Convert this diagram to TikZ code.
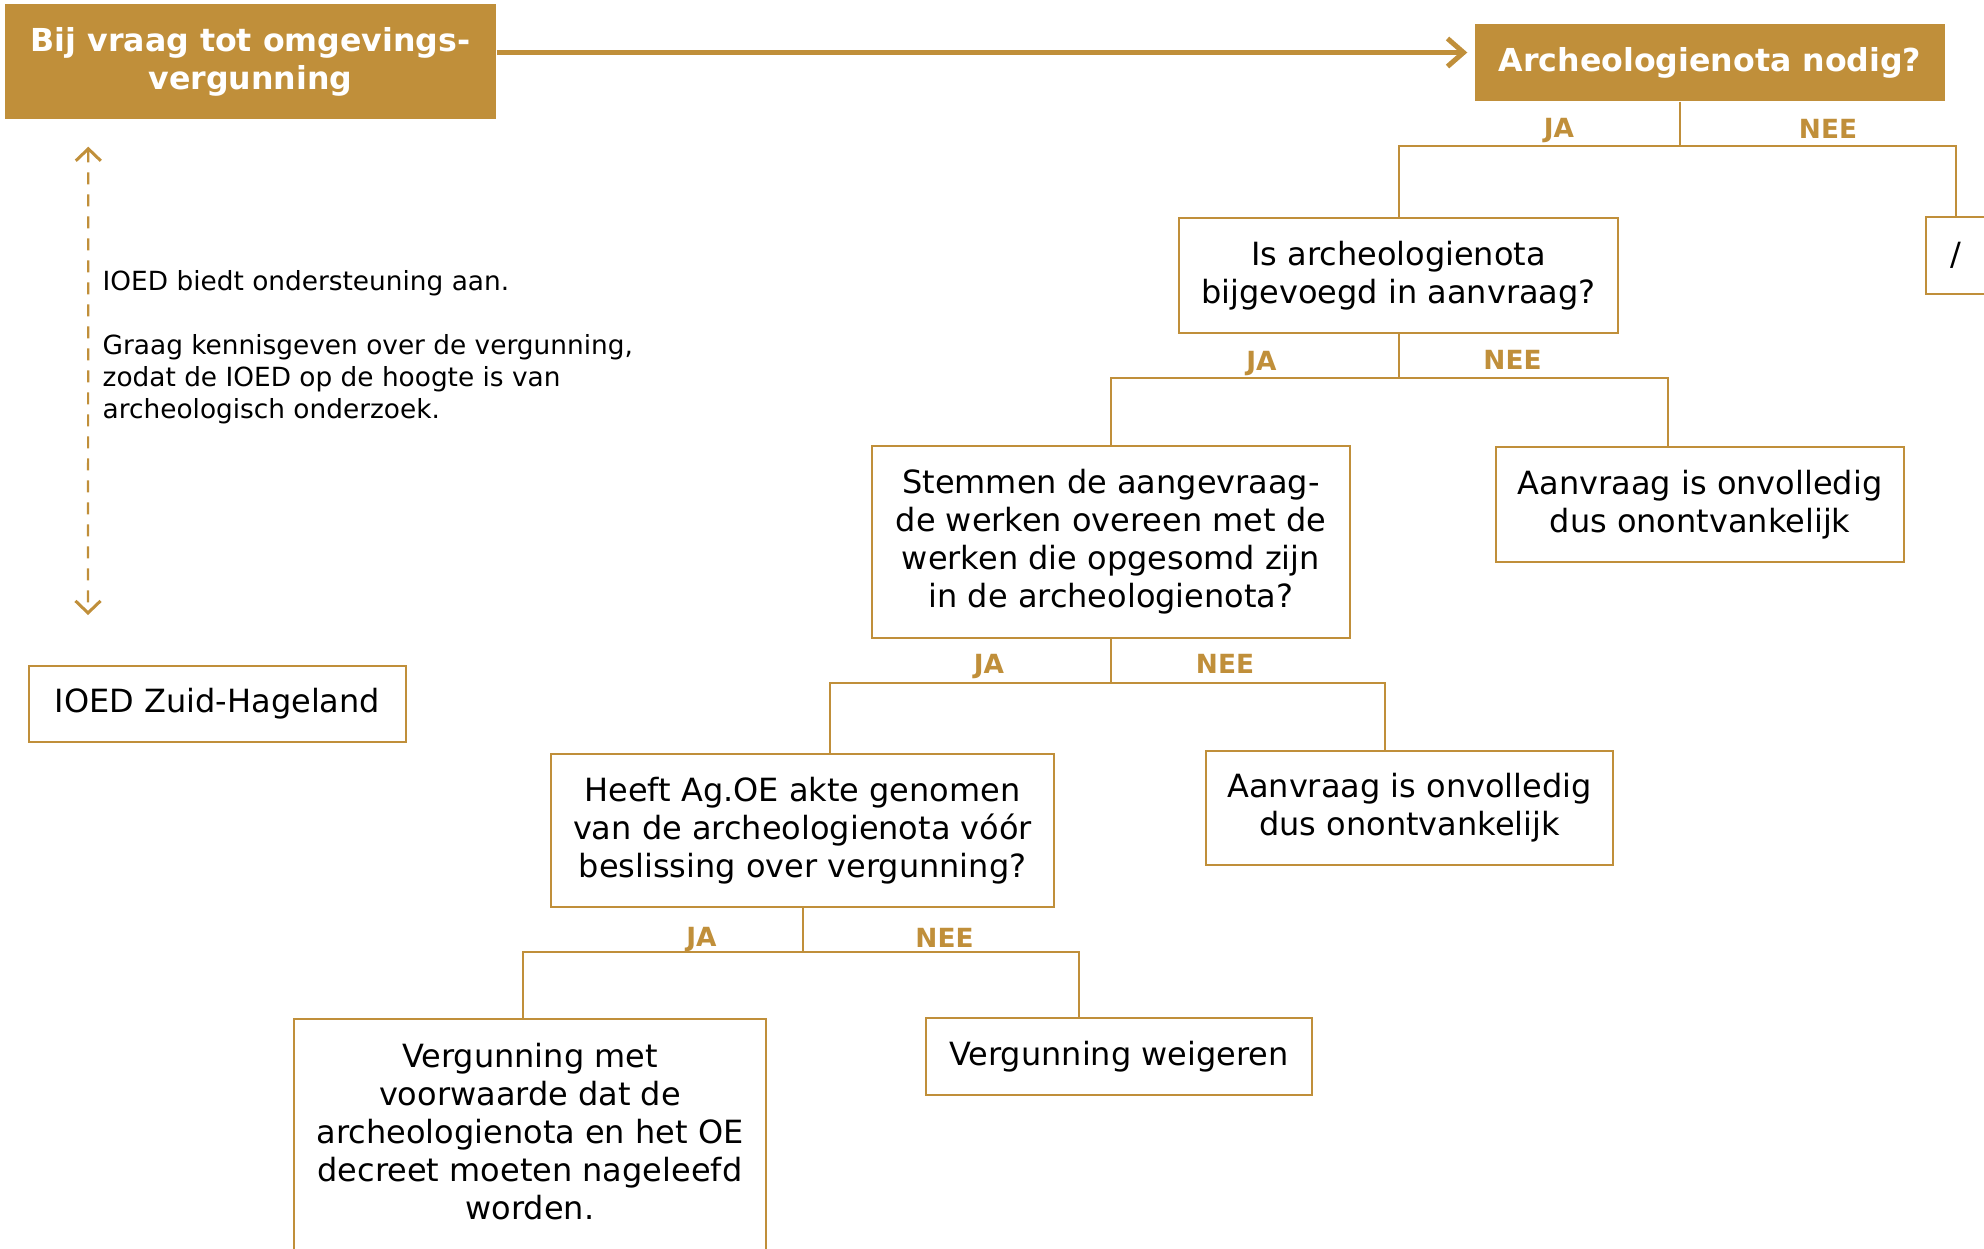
\documentclass[tikz,border=0pt]{standalone}
\usepackage{fontspec}
\setmainfont{DejaVu Sans}
\usetikzlibrary{arrows.meta}
\definecolor{goud}{RGB}{192,143,58}
\begin{document}
\begin{tikzpicture}
[x=0.1mm,y=-0.1mm,
box/.style={draw=goud,line width=0.2mm,align=center,inner sep=0pt,font=\fontsize{9.1}{10.8}\selectfont},
kop/.style={fill=goud,text=white,align=center,inner sep=0pt,font=\fontsize{9}{10.8}\selectfont\bfseries},
keuze/.style={text=goud,inner sep=0pt,text height=5.5pt,text depth=0pt,font=\fontsize{7.5}{9}\selectfont\bfseries},
tak/.style={draw=goud,line width=0.2mm},
pijl/.style={draw=goud,line width=0.5mm,shorten >=0.7mm,-{Straight Barb[length=1.6mm,width=2.8mm]}},
stippel/.style={draw=goud,line width=0.22mm,dash pattern=on 1.2mm off 1mm,
  {Straight Barb[length=1.2mm,width=2.5mm,line width=0.3mm]}-{Straight Barb[length=1.2mm,width=2.5mm,line width=0.3mm]}}]
\useasboundingbox (0,0) rectangle (1984,1248);
\node[kop,minimum width=49.1mm,minimum height=11.5mm] (vraag) at (250.5,61.5) {Bij vraag tot omgevings-\\vergunning};
\node[kop,minimum width=47mm,minimum height=7.7mm] (nodig) at (1710,62.5) {Archeologienota nodig?};
\node[box,minimum width=6mm,minimum height=7.7mm] (geen) at (1956,255.5) {/};
\node[box,minimum width=43.9mm,minimum height=11.5mm] (bijgevoegd) at (1398.5,275.5) {Is archeologienota\\bijgevoegd in aanvraag?};
\node[box,minimum width=47.8mm,minimum height=19.2mm] (stemmen) at (1111,542) {Stemmen de aangevraag-\\de werken overeen met de\\werken die opgesomd zijn\\in de archeologienota?};
\node[box,minimum width=40.8mm,minimum height=11.5mm] (onvolledig1) at (1700,504.5) {Aanvraag is onvolledig\\dus onontvankelijk};
\node[box,minimum width=50.3mm,minimum height=15.3mm] (akte) at (802.5,830.5) {Heeft Ag.OE akte genomen\\van de archeologienota vóór\\beslissing over vergunning?};
\node[box,minimum width=40.7mm,minimum height=11.4mm] (onvolledig2) at (1409.5,808) {Aanvraag is onvolledig\\dus onontvankelijk};
\node[box,minimum width=47.2mm,minimum height=23.4mm,text depth=0.9mm] (voorwaarde) at (530,1136) {Vergunning met\\voorwaarde dat de\\archeologienota en het OE\\decreet moeten nageleefd\\worden.};
\node[box,minimum width=38.6mm,minimum height=7.7mm] (weigeren) at (1119,1056.5) {Vergunning weigeren};
\node[box,minimum width=37.7mm,minimum height=7.6mm] (ioed) at (217.5,704) {IOED Zuid-Hageland};
\node[anchor=north west,align=left,inner sep=0pt,font=\fontsize{7.5}{9.1}\selectfont] (uitleg) at (102,270)
{IOED biedt ondersteuning aan.\\[9.1pt]Graag kennisgeven over de vergunning,\\zodat de IOED op de hoogte is van\\archeologisch onderzoek.};
\draw[pijl] ([yshift=0.9mm]vraag.east) -- ([yshift=0.9mm]vraag.east -| nodig.west);
\draw[stippel] ([shift={(84,27)}]vraag.south west) -- ([shift={(60,-50)}]ioed.north west);
\draw[tak] ([xshift=-3mm]nodig.south) -- ++(0,44) coordinate (splitsing1);
\draw[tak] (bijgevoegd.north) |- (splitsing1) -| (geen.north);
\node[keuze] at ([shift={(-121,-18)}]splitsing1) {JA};
\node[keuze] at ([shift={(148,-17)}]splitsing1) {NEE};
\draw[tak] (bijgevoegd.south) -- ++(0,44) coordinate (splitsing2);
\draw[tak] (stemmen.north) |- (splitsing2) -| ([xshift=-3.2mm]onvolledig1.north);
\node[keuze] at ([shift={(-137,-17)}]splitsing2) {JA};
\node[keuze] at ([shift={(114,-18)}]splitsing2) {NEE};
\draw[tak] (stemmen.south) -- ++(0,44) coordinate (splitsing3);
\draw[tak] ([xshift=2.75mm]akte.north) |- (splitsing3) -| ([xshift=-2.45mm]onvolledig2.north);
\node[keuze] at ([shift={(-122,-19)}]splitsing3) {JA};
\node[keuze] at ([shift={(114,-19)}]splitsing3) {NEE};
\draw[tak] (akte.south) -- ++(0,44) coordinate (splitsing4);
\draw[tak] ([xshift=-0.7mm]voorwaarde.north) |- (splitsing4) -| ([xshift=-4mm]weigeren.north);
\node[keuze] at ([shift={(-101,-15)}]splitsing4) {JA};
\node[keuze] at ([shift={(142,-14)}]splitsing4) {NEE};
%\draw[tak] (geen.south) -- ++(0,20);
\end{tikzpicture}
\end{document}
